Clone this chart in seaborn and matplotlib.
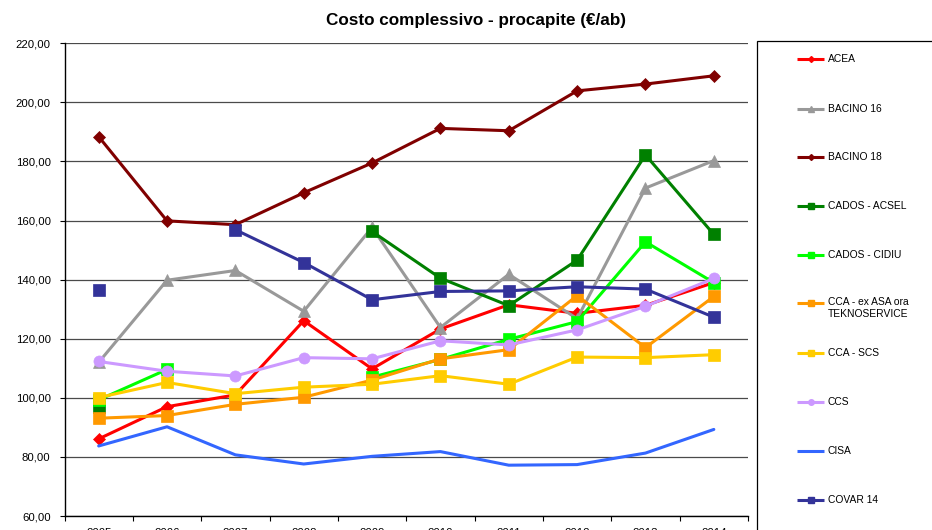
import numpy as np
import pandas as pd
import matplotlib
matplotlib.use("Agg")
import matplotlib.pyplot as plt
from matplotlib.lines import Line2D
from matplotlib.patches import Rectangle
import seaborn as sns

# ---- data -------------------------------------------------------------
years = [2005, 2006, 2007, 2008, 2009, 2010, 2011, 2012, 2013, 2014]

acea = [86.1, 97.0, 101.0, 126.1, 109.8, 123.3, 131.5, 128.6, 131.3, 139.0]
bacino_16 = [112.0, 139.8, 143.1, 129.3, 157.7, 123.8, 141.8, 126.8, 171.0, 180.3]
bacino_18 = [188.4, 159.9, 158.6, 169.4, 179.5, 191.2, 190.4, 203.9, 206.2, 209.0]
cados_acsel = [97.0, np.nan, np.nan, np.nan, 156.3, 140.5, 131.2, 146.6, 182.2, 155.3]
cados_cidiu = [99.3, 109.6, np.nan, np.nan, 107.0, 113.0, 119.8, 125.8, 152.8, 139.0]
cca_ex_asa = [93.1, 94.0, 97.8, 100.2, 106.0, 113.2, 116.3, 134.6, 117.0, 134.3]
cca_scs = [100.1, 105.2, 101.4, 103.6, 104.6, 107.5, 104.6, 113.8, 113.6, 114.6]
ccs = [112.3, 109.0, 107.4, 113.6, 113.2, 119.3, 117.9, 123.0, 131.0, 140.4]
cisa = [83.7, 90.2, 80.7, 77.6, 80.2, 81.8, 77.2, 77.4, 81.3, 89.3]
covar_14 = [136.6, np.nan, 156.9, 145.8, 133.2, 136.0, 136.2, 137.6, 136.8, 127.3]

series_names = ["ACEA", "BACINO 16", "BACINO 18", "CADOS - ACSEL", "CADOS - CIDIU",
                "CCA - ex ASA ora\nTEKNOSERVICE", "CCA - SCS", "CCS", "CISA", "COVAR 14"]
series_values = [acea, bacino_16, bacino_18, cados_acsel, cados_cidiu,
                 cca_ex_asa, cca_scs, ccs, cisa, covar_14]

y_ticks = [60, 80, 100, 120, 140, 160, 180, 200, 220]

# ---- styles -----------------------------------------------------------
colors = ["#FF0000", "#999999", "#800000", "#008000", "#00FF00",
          "#FF9900", "#FFCC00", "#CC99FF", "#3366FF", "#333399"]
markers = ["D", "^", "D", "s", "s", "s", "s", "o", None, "s"]
marker_sizes = [6.5, 9.0, 6.5, 9.2, 9.2, 9.2, 9.2, 8.0, 0, 9.2]
legend_marker_sizes = [3.0, 4.5, 3.0, 4.5, 4.5, 4.5, 4.5, 4.0, 0, 4.5]

sns.set_theme(style="white")
plt.rcParams["font.family"] = ["Liberation Sans", "DejaVu Sans"]

W, H = 932, 530
fig = plt.figure(figsize=(W / 100, H / 100), dpi=100)
fig.patch.set_facecolor("white")


def fx(px):
    return px / W


def fy(py):
    return 1 - py / H


ax_left, ax_right, ax_top, ax_bottom = 64.5, 748.0, 43.3, 516.0
ax = fig.add_axes([fx(ax_left), fy(ax_bottom), fx(ax_right) - fx(ax_left),
                   fy(ax_top) - fy(ax_bottom)])
ax.set_facecolor("white")

positions = np.arange(len(years))

# each series is drawn as its contiguous runs, so missing years leave gaps
for i, (name, vals) in enumerate(zip(series_names, series_values)):
    df = pd.DataFrame({"pos": positions, "value": vals})
    valid = df["value"].notna()
    run_id = (valid != valid.shift()).cumsum()
    for _, seg in df[valid].groupby(run_id[valid]):
        kws = dict(color=colors[i], linewidth=2.2, zorder=3 + i)
        if markers[i] is not None:
            kws.update(marker=markers[i], markersize=marker_sizes[i],
                       markeredgecolor=colors[i], markeredgewidth=0.5)
        sns.lineplot(data=seg, x="pos", y="value", ax=ax, estimator=None,
                     sort=False, legend=False, **kws)

ax.set_xlim(-0.5, len(years) - 0.5)
ax.set_ylim(60, 220)
ax.set_xlabel("")
ax.set_ylabel("")

# y axis
ax.set_yticks(y_ticks)
ax.set_yticklabels([f"{v:.2f}".replace(".", ",") for v in y_ticks])
ax.yaxis.grid(True, color="#4a4a4a", linewidth=0.9)
ax.xaxis.grid(False)
ax.set_axisbelow(True)
ax.tick_params(axis="y", which="major", direction="out", left=True, length=3.5,
               width=0.8, color="black", labelsize=8.2, pad=6.5, labelcolor="black")

# x axis: tick marks between categories, labels at category centres
ax.set_xticks(np.arange(-0.5, len(years), 1.0))
ax.set_xticklabels([])
ax.set_xticks(positions, minor=True)
ax.set_xticklabels([str(y) for y in years], minor=True)
ax.tick_params(axis="x", which="major", direction="out", bottom=True, length=3.5,
               width=0.8, color="black")
ax.tick_params(axis="x", which="minor", bottom=True, length=0, labelsize=8.2,
               pad=8.5, labelcolor="black")

for side in ["top", "right"]:
    ax.spines[side].set_visible(False)
for side in ["left", "bottom"]:
    ax.spines[side].set_color("black")
    ax.spines[side].set_linewidth(1.0)

# title
fig.text(fx(476), fy(21), "Costo complessivo - procapite (€/ab)", ha="center",
         va="center", fontsize=12.3, fontweight="bold", color="black")

# legend box (runs off the right and bottom edges)
box_left, box_top = 757.3, 41.0
fig.add_artist(Rectangle((fx(box_left), fy(H + 30)), fx(W + 30) - fx(box_left),
                         fy(box_top) - fy(H + 30), transform=fig.transFigure,
                         fill=False, edgecolor="black", linewidth=0.9, clip_on=False))

entry_y = [59.3, 108.7, 157.3, 206.0, 255.3, 303.3, 352.7, 401.7, 450.7, 500.0]
h_x0, h_x1, t_x = 797.0, 824.0, 827.5
for i, name in enumerate(series_names):
    yy = fy(entry_y[i])
    fig.add_artist(Line2D([fx(h_x0), fx(h_x1)], [yy, yy], transform=fig.transFigure,
                          color=colors[i], linewidth=2.2, solid_capstyle="butt"))
    if markers[i] is not None:
        fig.add_artist(Line2D([fx((h_x0 + h_x1) / 2)], [yy], transform=fig.transFigure,
                              color=colors[i], marker=markers[i],
                              markersize=legend_marker_sizes[i],
                              markeredgecolor=colors[i], linestyle="none"))
    if "\n" in name:
        fig.text(fx(t_x), fy(entry_y[i] - 6.3), name, ha="left", va="top",
                 fontsize=7.4, color="black", linespacing=1.2)
    else:
        fig.text(fx(t_x), yy, name, ha="left", va="center", fontsize=7.4, color="black")

fig.savefig("out.png", dpi=100, facecolor="white")
